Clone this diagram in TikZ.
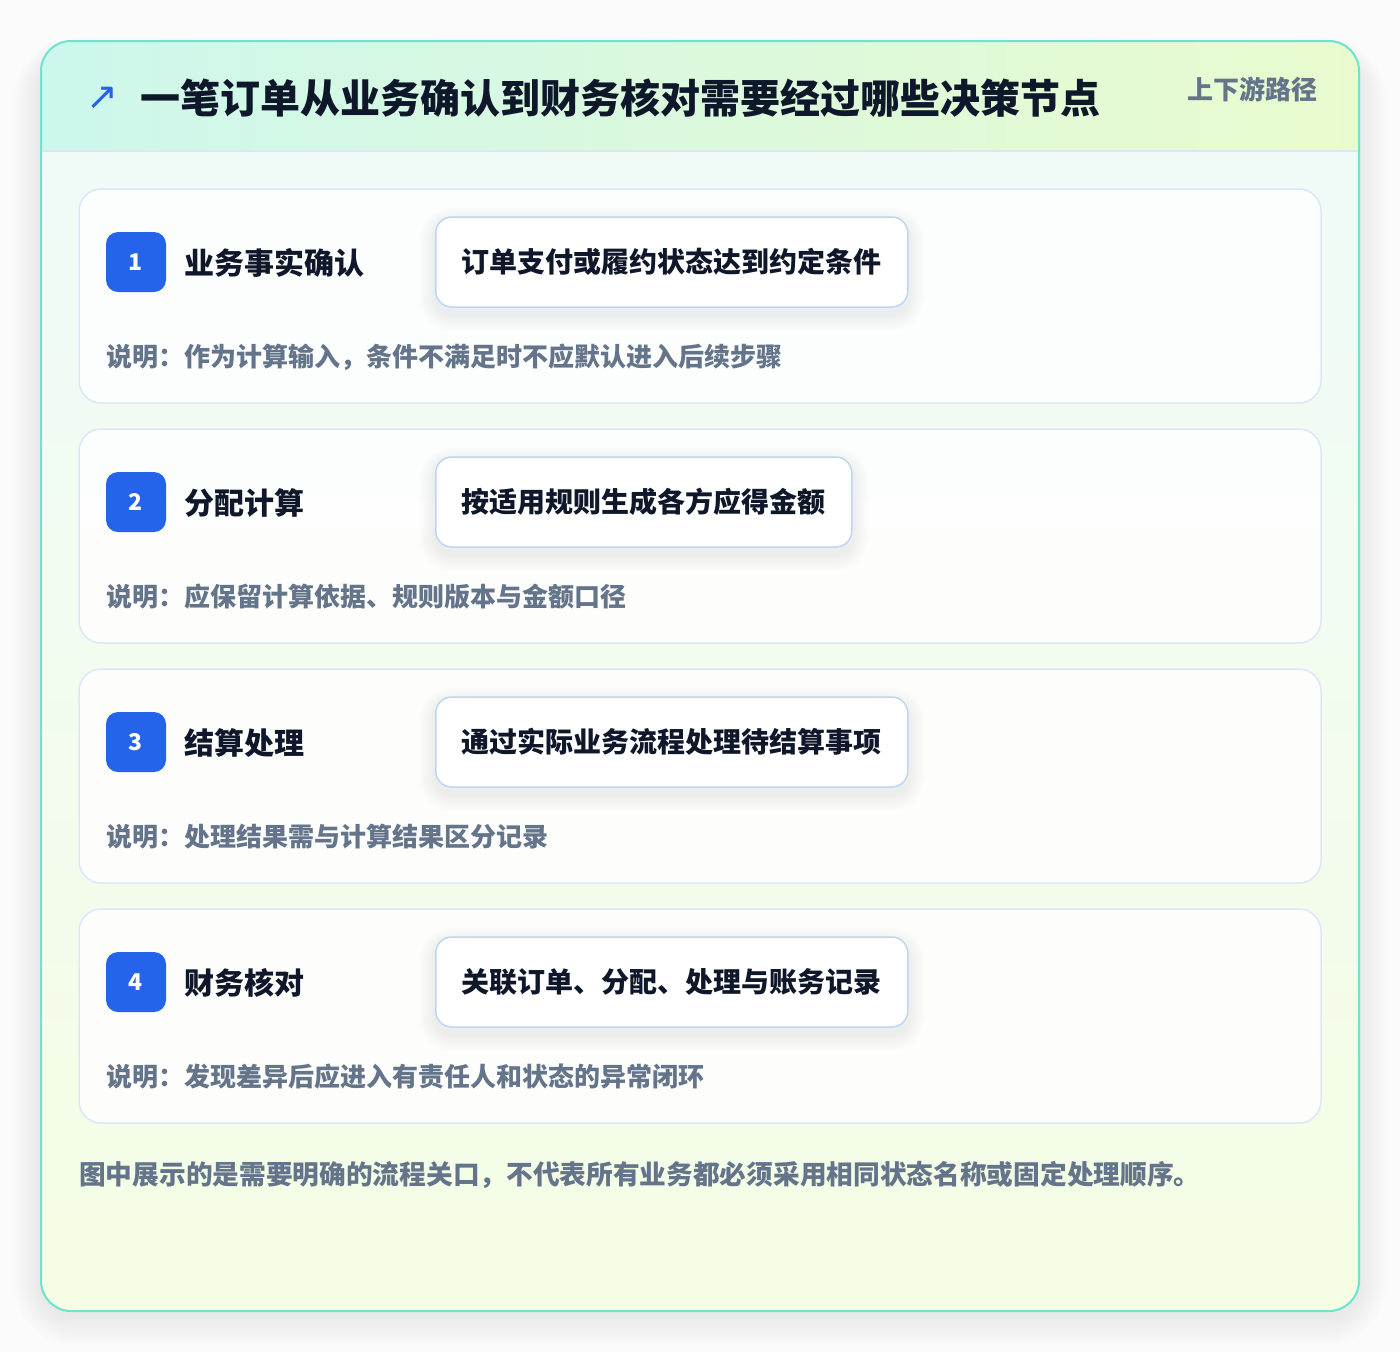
\documentclass[tikz,border=0pt]{standalone}
\usepackage{fontspec}
\setmainfont{Noto Sans CJK SC}
\newfontfamily\symfont{DejaVu Sans}
\pgfdeclarelayer{shadowlayer}
\pgfdeclarelayer{toplayer}
\pgfsetlayers{main,shadowlayer,toplayer}
\definecolor{pagebg}{HTML}{FBFBFB}
\definecolor{outerline}{HTML}{6EE3CF}
\definecolor{hdleft}{HTML}{CDF7EC}
\definecolor{hdright}{HTML}{E9FBCE}
\definecolor{bdtop}{HTML}{F0FBF8}
\definecolor{bdbot}{HTML}{F5FDE4}
\definecolor{hdline}{HTML}{DCE7F6}
\definecolor{cardline}{HTML}{DCE8F8}
\definecolor{boxline}{HTML}{BED6F5}
\definecolor{badgeblue}{HTML}{2563EB}
\definecolor{ink}{HTML}{0F172A}
\definecolor{muted}{HTML}{64748B}
\tikzset{
  card/.style={draw=cardline, line width=1.5pt, fill=white, fill opacity=0.85, text opacity=1, rounded corners=22pt, minimum width=1242pt, minimum height=214pt, inner sep=0pt},
  badge/.style={fill=badgeblue, rounded corners=12pt, minimum width=60pt, minimum height=60pt, inner sep=0pt, text=white, font=\fontsize{23}{26}\selectfont\bfseries},
  steptitle/.style={anchor=west, inner sep=0pt, text=ink, font=\fontsize{30}{36}\selectfont\bfseries},
  actbox/.style={anchor=west, draw=boxline, line width=1.5pt, fill=white, rounded corners=16pt, minimum height=90pt, inner xsep=26pt, inner ysep=0pt, text=ink, font=\fontsize{28}{34}\selectfont\bfseries},
  desc/.style={anchor=west, inner sep=0pt, text=muted, font=\fontsize{26}{30}\selectfont\bfseries},
  shadowlayerfill/.style={fill=black, opacity=0.005},
}
\begin{document}
\begin{tikzpicture}[x=1pt,y=-1pt]
\useasboundingbox (0,0) rectangle (1400,1352);
\fill[pagebg] (0,0) rectangle (1400,1352);
% outer card shadow
\foreach \k in {2,4,...,36}{
  \fill[black, opacity=0.0035, rounded corners={30+\k}] ({41-\k*0.8},{41-\k*0.5+14}) rectangle ({1359+\k*0.8},{1311+\k*0.9+4});
}
\begin{scope}
  \clip[rounded corners=30pt] (41,41) rectangle (1359,1311);
  \shade[top color=bdtop, bottom color=bdbot] (41,151) rectangle (1359,1311);
  \shade[left color=hdleft, right color=hdright] (41,41) rectangle (1359,151);
  \draw[hdline, line width=1.5pt] (41,151) -- (1359,151);
\end{scope}
\draw[outerline, line width=2pt, rounded corners=30pt] (41,41) rectangle (1359,1311);
% header
\node[inner sep=0pt, text=badgeblue, font=\symfont\fontsize{38}{42}\selectfont] (icon) at (102,98) {↗};
\node[anchor=west, inner sep=0pt, text=ink, font=\fontsize{40}{48}\selectfont\bfseries] (title) at (140,98) {一笔订单从业务确认到财务核对需要经过哪些决策节点};
\node[anchor=east, inner sep=0pt, text=muted, font=\fontsize{26}{30}\selectfont\bfseries] (tag) at (1318,89) {上下游路径};
% steps
\foreach \i/\num/\ttl/\act/\dsc in {
  0/1/业务事实确认/订单支付或履约状态达到约定条件/说明：作为计算输入，条件不满足时不应默认进入后续步骤,
  1/2/分配计算/按适用规则生成各方应得金额/说明：应保留计算依据、规则版本与金额口径,
  2/3/结算处理/通过实际业务流程处理待结算事项/说明：处理结果需与计算结果区分记录,
  3/4/财务核对/关联订单、分配、处理与账务记录/说明：发现差异后应进入有责任人和状态的异常闭环}{
  \node[card] (card\num) at (700,{296+240*\i}) {};
  \node[badge] (badge\num) at (136,{262+240*\i}) {\num};
  \node[steptitle] (name\num) at (184,{263+240*\i}) {\ttl};
  \begin{pgfonlayer}{toplayer}
    \node[actbox] (act\num) at (435,{262+240*\i}) {\act};
  \end{pgfonlayer}
  \begin{pgfonlayer}{shadowlayer}
    \foreach \k in {1,2,...,16}{
      \fill[shadowlayerfill, rounded corners={16+\k}]
        ([xshift={-\k pt}, yshift={\k pt - 7pt}]act\num.north west) rectangle
        ([xshift={\k pt}, yshift={-\k pt - 7pt}]act\num.south east);
    }
  \end{pgfonlayer}
  \node[desc] (desc\num) at (106,{357+240*\i}) {\dsc};
}
\node[anchor=west, inner sep=0pt, text=muted, font=\fontsize{26.7}{30}\selectfont\bfseries] (note) at (79,1175) {图中展示的是需要明确的流程关口，不代表所有业务都必须采用相同状态名称或固定处理顺序。};
\end{tikzpicture}
\end{document}
